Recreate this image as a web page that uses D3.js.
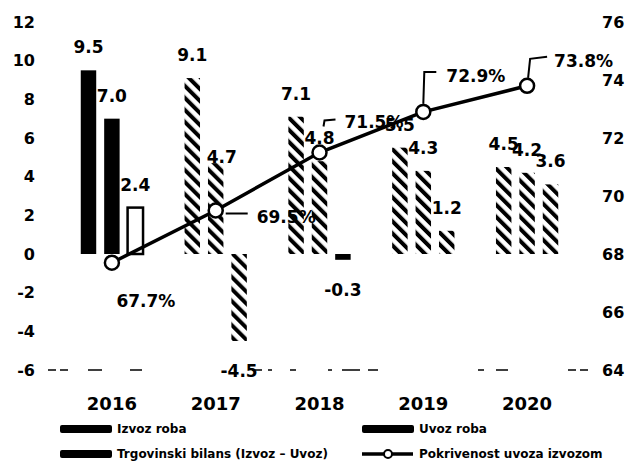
<!DOCTYPE html>
<html>
<meta charset="utf-8">
<title>Izvoz i uvoz roba</title>
<style>
	body { margin: 0; background: #ffffff; }
	text { fill: #000; font-family: "DejaVu Sans", sans-serif; }
	.tick-label { font-weight: bold; font-size: 16px; }
	.year-label { font-weight: bold; font-size: 18px; }
	.bar-label, .pct-label { font-weight: bold; font-size: 17px; }
	.legend text { font-family: "DejaVu Sans", sans-serif; font-weight: bold; font-size: 12px; }
</style>
<body>
<div id="chart"></div>

<script src="https://cdn.jsdelivr.net/npm/d3@7"></script>
<script>

	// Data
	var years = ["2016", "2017", "2018", "2019", "2020"];
	var izvoz = [9.5, 9.1, 7.1, 5.5, 4.5];
	var uvoz = [7.0, 4.7, 4.8, 4.3, 4.2];
	var bilans = [2.4, -4.5, -0.3, 1.2, 3.6];
	var pokrivenost = [67.7, 69.5, 71.5, 72.9, 73.8];
	var leftTicks = [-6, -4, -2, 0, 2, 4, 6, 8, 10, 12];
	var rightTicks = [64, 66, 68, 70, 72, 74, 76];
	var seriesNames = ["Izvoz roba", "Uvoz roba", "Trgovinski bilans (Izvoz \u2013 Uvoz)", "Pokrivenost uvoza izvozom"];

	var width = 629, height = 462;

	var svg = d3.select("#chart").append("svg")
		.attr("width", width)
		.attr("height", height);

	// hatch pattern for the striped bars
	var defs = svg.append("defs");
	defs.append("pattern")
		.attr("id", "hatch")
		.attr("patternUnits", "userSpaceOnUse")
		.attr("width", 8.5)
		.attr("height", 8.5)
		.attr("patternTransform", "rotate(-45)")
		.append("rect")
		.attr("x", 0).attr("y", 0)
		.attr("width", 4).attr("height", 8.5)
		.attr("fill", "#000");

	// scales
	var x = d3.scaleBand().domain(years).range([60, 579]).paddingInner(0.4).paddingOuter(0.2);
	var xs = d3.scaleBand().domain([0, 1, 2]).range([0, x.bandwidth()]).paddingInner(0.34);
	var yL = d3.scaleLinear().domain([-6, 12]).range([370, 22]);
	var yR = d3.scaleLinear().domain([64, 76]).range([370, 22]);

	// dashed base line at -6
	svg.append("line")
		.attr("x1", 48).attr("x2", 598)
		.attr("y1", yL(-6)).attr("y2", yL(-6))
		.attr("stroke", "#000")
		.attr("stroke-width", 1.6)
		.attr("stroke-dasharray", "8 4 8 20 14 28 12 110 10 6 4 18 6 32 4 10 18 8 10 100 6 12 12 60");

	// left axis labels
	svg.append("g").selectAll("text").data(leftTicks).enter().append("text")
		.attr("class", "tick-label")
		.attr("x", 35)
		.attr("y", function (d) { return yL(d); })
		.attr("dy", "0.36em")
		.attr("text-anchor", "end")
		.text(function (d) { return d; });

	// right axis labels
	svg.append("g").selectAll("text").data(rightTicks).enter().append("text")
		.attr("class", "tick-label")
		.attr("x", 602)
		.attr("y", function (d) { return yR(d); })
		.attr("dy", "0.36em")
		.text(function (d) { return d; });

	// year labels
	svg.append("g").selectAll("text").data(years).enter().append("text")
		.attr("class", "year-label")
		.attr("x", function (d) { return x(d) + x.bandwidth() / 2; })
		.attr("y", 410)
		.attr("text-anchor", "middle")
		.text(function (d) { return d; });

	// bars
	var series = [izvoz, uvoz, bilans];
	var bars = [];
	series.forEach(function (vals, s) {
		vals.forEach(function (v, i) {
			bars.push({ s: s, i: i, year: years[i], v: v });
		});
	});

	// how each bar came out in the scan
	function barStyle(d) {
		if (d.i === 0 && d.s < 2) return "solid";
		if (d.i === 0 && d.s === 2) return "outline";
		if (d.i === 2 && d.s === 2) return "solid";
		return "hatch";
	}

	svg.append("g").selectAll("rect").data(bars).enter().append("rect")
		.attr("x", function (d) { return x(d.year) + xs(d.s); })
		.attr("width", xs.bandwidth())
		.attr("y", function (d) { return yL(Math.max(0, d.v)); })
		.attr("height", function (d) { return Math.abs(yL(d.v) - yL(0)); })
		.attr("fill", function (d) {
			var st = barStyle(d);
			return st === "solid" ? "#000" : st === "outline" ? "#fff" : "url(#hatch)";
		})
		.attr("stroke", function (d) { return barStyle(d) === "outline" ? "#000" : "none"; })
		.attr("stroke-width", 2.5);

	// bar value labels (small nudges where the original placed them differently)
	var nudge = { "1-1": [6, 17] };
	var fmt = function (v) { return d3.format(".1f")(v).replace("\u2212", "-"); };
	svg.append("g").selectAll("text").data(bars).enter().append("text")
		.attr("class", "bar-label")
		.attr("text-anchor", "middle")
		.attr("x", function (d) {
			var n = nudge[d.s + "-" + d.i] || [0, 0];
			return x(d.year) + xs(d.s) + xs.bandwidth() / 2 + n[0];
		})
		.attr("y", function (d) {
			var n = nudge[d.s + "-" + d.i] || [0, 0];
			return (d.v >= 0 ? yL(d.v) - 17 : yL(d.v) + 36) + n[1];
		})
		.text(function (d) { return fmt(d.v); });

	// coverage line
	var cx = function (i) { return x(years[i]) + x.bandwidth() / 2; };
	var line = d3.line()
		.x(function (d, i) { return cx(i); })
		.y(function (d) { return yR(d); });

	svg.append("path")
		.datum(pokrivenost)
		.attr("d", line)
		.attr("fill", "none")
		.attr("stroke", "#000")
		.attr("stroke-width", 3.5);

	// leader lines and percent labels, relative to each point
	var pctLayout = [
		{ dx: 34, dy: 44, anchor: "middle", leader: null },
		{ dx: 41, dy: 12, anchor: "start", leader: [[10, 3], [32, 3]] },
		{ dx: 25, dy: -25, anchor: "start", leader: [[4, -26], [5, -32], [16, -33]] },
		{ dx: 23, dy: -30, anchor: "start", leader: [[0, -8], [1, -40], [13, -40]] },
		{ dx: 27, dy: -19, anchor: "start", leader: [[1, -8], [3, -27], [20, -29]] }
	];

	pokrivenost.forEach(function (v, i) {
		var L = pctLayout[i];
		if (L.leader) {
			svg.append("path")
				.attr("d", d3.line()(L.leader.map(function (p) { return [cx(i) + p[0], yR(v) + p[1]]; })))
				.attr("fill", "none")
				.attr("stroke", "#000")
				.attr("stroke-width", 2);
		}
		svg.append("text")
			.attr("class", "pct-label")
			.attr("x", cx(i) + L.dx)
			.attr("y", yR(v) + L.dy)
			.attr("text-anchor", L.anchor)
			.text(fmt(v) + "%");
	});

	svg.append("g").selectAll("circle").data(pokrivenost).enter().append("circle")
		.attr("cx", function (d, i) { return cx(i); })
		.attr("cy", function (d) { return yR(d); })
		.attr("r", 7)
		.attr("fill", "#fff")
		.attr("stroke", "#000")
		.attr("stroke-width", 2.5);

	// legend
	var legend = svg.append("g").attr("class", "legend");
	var legendPos = [[60, 429], [362, 429], [60, 454], [362, 454]];
	seriesNames.forEach(function (name, k) {
		var p = legendPos[k];
		if (k < 3) {
			legend.append("rect")
				.attr("x", p[0]).attr("y", p[1] - 4)
				.attr("width", 52).attr("height", 8)
				.attr("rx", 2)
				.attr("fill", "#000");
		} else {
			legend.append("line")
				.attr("x1", p[0]).attr("x2", p[0] + 51)
				.attr("y1", p[1]).attr("y2", p[1])
				.attr("stroke", "#000").attr("stroke-width", 3.5);
			legend.append("circle")
				.attr("cx", p[0] + 26).attr("cy", p[1]).attr("r", 4)
				.attr("fill", "#fff").attr("stroke", "#000").attr("stroke-width", 2);
		}
		legend.append("text")
			.attr("x", p[0] + 57)
			.attr("y", p[1])
			.attr("dy", "0.35em")
			.text(name);
	});

</script>
</body>
</html>
